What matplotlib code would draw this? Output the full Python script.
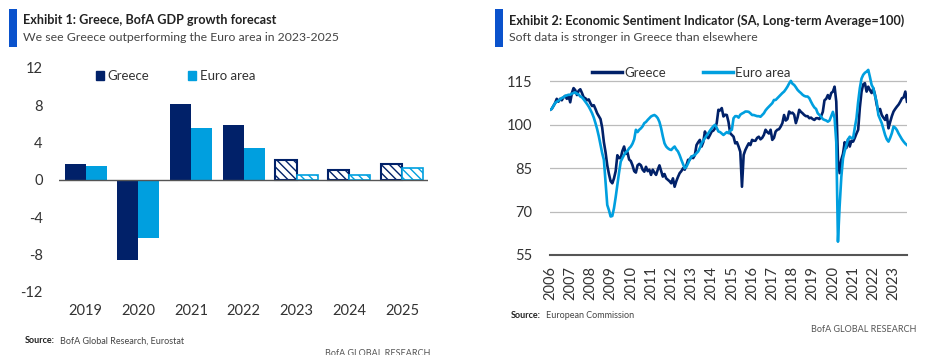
import numpy as np
import matplotlib
matplotlib.use("Agg")
import matplotlib.pyplot as plt
from matplotlib import font_manager as fm
from matplotlib.patches import Patch, Rectangle
from matplotlib.lines import Line2D

_names = {f.name for f in fm.fontManager.ttflist}
if 'Liberation Sans Narrow' in _names:
    FONT = ['Liberation Sans Narrow', 'DejaVu Sans']
    SZ = dict(title=10, sub=10, tick=11, leg=10.5, src=7.5)
else:
    FONT = ['Lato', 'DejaVu Sans']
    SZ = dict(title=9.1, sub=8.8, tick=10.5, leg=9.5, src=6.5)
plt.rcParams['font.family'] = FONT
plt.rcParams['hatch.linewidth'] = 1.0

# ---------------- data: Exhibit 1 ----------------
years_gdp = ['2019', '2020', '2021', '2022', '2023', '2024', '2025']
greece_gdp = [1.7, -8.6, 8.1, 5.9, 2.1, 1.0, 1.7]
euro_gdp = [1.5, -6.3, 5.5, 3.4, 0.5, 0.5, 1.3]
forecast_from = 4  # index of first forecast year (2023)
gdp_yticks = [12, 8, 4, 0, -4, -8, -12]

# ---------------- data: Exhibit 2 (monthly, Jan 2006 - Sep 2023) ----------------
esi_start_year = 2006
greece_esi = [
    105.2, 105.5, 106.5, 107.5, 109.0, 108.0, 109.0, 108.5, 109.5, 110.0, 109.0, 110.0,  # 2006
    107.8, 111.0, 112.7, 112.0, 110.3, 111.8, 112.3, 111.0, 109.5, 109.2, 108.5, 108.8,  # 2007
    107.5, 106.5, 106.8, 105.5, 104.0, 103.0, 102.0, 99.0, 94.0, 90.5, 86.0, 83.0,      # 2008
    80.5, 79.8, 81.5, 84.0, 89.5, 88.5, 88.5, 91.0, 92.5, 90.0, 90.5, 88.0,             # 2009
    87.5, 86.0, 84.0, 83.5, 86.0, 86.5, 86.0, 84.5, 83.8, 85.5, 84.0, 84.5,             # 2010
    82.7, 84.5, 83.5, 82.7, 84.5, 86.0, 84.0, 82.1, 83.0, 81.5, 81.0, 80.5,             # 2011
    79.8, 81.5, 78.6, 80.5, 82.0, 83.3, 84.0, 85.0, 84.5, 86.0, 87.9, 88.0,             # 2012
    89.0, 88.5, 89.5, 93.0, 94.0, 94.8, 92.5, 94.0, 97.7, 96.0, 95.4, 96.5,             # 2013
    97.7, 98.0, 98.8, 100.6, 105.2, 105.0, 105.8, 102.9, 103.5, 103.4, 101.0, 97.1,     # 2014
    96.5, 95.9, 93.6, 94.0, 92.5, 90.7, 78.6, 89.6, 91.3, 92.5, 93.6, 93.0,             # 2015
    94.8, 94.5, 94.5, 95.5, 95.9, 95.0, 95.5, 96.5, 98.3, 97.5, 97.0, 98.3,             # 2016
    94.8, 95.5, 97.7, 98.3, 98.5, 99.4, 100.6, 103.4, 101.5, 102.0, 104.6, 104.0,       # 2017
    104.2, 103.5, 100.6, 102.5, 105.2, 104.5, 104.0, 103.4, 103.0, 103.0, 102.3, 102.5, # 2018
    102.0, 101.7, 102.3, 102.3, 102.0, 103.0, 104.5, 108.5, 109.0, 110.3, 109.0, 111.0, # 2019
    111.5, 113.2, 108.0, 88.0, 83.3, 88.0, 90.0, 94.0, 92.0, 95.0, 92.5, 94.5,          # 2020
    94.2, 95.5, 97.0, 98.3, 106.0, 111.5, 114.0, 114.4, 111.5, 113.2, 112.0, 111.0,     # 2021
    112.6, 110.4, 107.0, 104.6, 105.5, 103.4, 102.5, 101.7, 103.4, 98.8, 101.0, 103.0,  # 2022
    104.6, 105.5, 106.3, 107.0, 108.0, 109.2, 109.5, 111.5, 108.0,                      # 2023
]
euro_esi = [
    105.2, 105.5, 106.5, 107.5, 108.0, 108.3, 108.8, 109.3, 109.5, 110.0, 110.2, 110.4,  # 2006
    110.4, 110.8, 111.0, 111.2, 110.8, 110.5, 109.8, 109.5, 108.8, 108.0, 107.2, 106.3,  # 2007
    105.2, 104.0, 102.5, 100.6, 98.5, 96.0, 93.0, 90.2, 87.9, 80.0, 72.3, 70.5,         # 2008
    68.3, 68.5, 71.2, 75.0, 79.2, 83.5, 87.3, 88.5, 89.6, 90.5, 91.0, 91.9,             # 2009
    92.5, 93.5, 95.0, 98.3, 97.5, 98.3, 98.8, 99.5, 100.6, 101.0, 101.7, 102.3,         # 2010
    102.9, 103.2, 103.4, 103.0, 102.3, 101.0, 98.8, 96.0, 93.6, 92.5, 91.9, 91.5,       # 2011
    91.3, 92.0, 92.5, 91.5, 90.8, 89.5, 87.9, 86.5, 85.0, 85.5, 86.7, 88.0,             # 2012
    89.0, 89.3, 89.6, 90.2, 90.8, 92.0, 93.6, 94.5, 95.4, 96.3, 97.1, 98.0,             # 2013
    98.8, 99.5, 100.0, 99.0, 97.7, 97.5, 97.0, 96.5, 97.0, 97.5, 97.1, 98.0,            # 2014
    98.3, 102.3, 103.0, 103.0, 102.5, 103.5, 103.9, 104.2, 104.6, 104.6, 104.5, 104.0,  # 2015
    103.4, 103.4, 103.2, 103.0, 103.0, 102.8, 103.4, 104.0, 105.0, 105.7, 106.3, 106.9, # 2016
    107.5, 108.6, 108.6, 109.2, 109.8, 110.4, 111.0, 111.5, 112.3, 113.2, 114.3, 115.2, # 2017
    114.2, 113.8, 113.0, 112.1, 111.5, 111.0, 110.4, 110.0, 109.8, 109.8, 109.2, 108.0, # 2018
    106.9, 106.0, 105.5, 104.0, 103.4, 102.8, 102.0, 101.7, 101.5, 101.1, 101.5, 103.0, # 2019
    104.5, 102.3, 94.0, 59.6, 72.0, 82.0, 88.4, 91.0, 93.0, 95.0, 95.9, 95.4,           # 2020
    95.4, 99.0, 102.3, 108.0, 112.7, 116.0, 117.3, 118.0, 118.4, 119.0, 116.5, 113.8,   # 2021
    112.7, 110.0, 108.0, 103.4, 102.0, 100.6, 98.5, 96.5, 95.0, 94.2, 95.5, 97.1,       # 2022
    99.4, 99.0, 98.2, 97.0, 96.0, 95.0, 94.2, 93.5, 93.0,                               # 2023
]
esi_year_labels = [str(y) for y in range(2006, 2024)]
esi_yticks = [55, 70, 85, 100, 115]

# ---------------- style ----------------
NAVY = '#012169'
LBLUE = '#009FDF'
ACCENT = '#0A52CC'
TXT = '#333333'

W, H = 926, 355
fig = plt.figure(figsize=(W / 100, H / 100), dpi=100)


def fx(px):
    return px / W


def fy(py):
    return 1 - py / H


# ---------------- headers ----------------
for x0, title, sub in [
    (9, 'Exhibit 1: Greece, BofA GDP growth forecast',
     'We see Greece outperforming the Euro area in 2023-2025'),
    (495, 'Exhibit 2: Economic Sentiment Indicator (SA, Long-term Average=100)',
     'Soft data is stronger in Greece than elsewhere'),
]:
    fig.patches.append(Rectangle((fx(x0), fy(46.7)), fx(7.5), (46.7 - 9.3) / H,
                                 transform=fig.transFigure, color=ACCENT, lw=0))
    fig.text(fx(x0 + 14), fy(20.5), title, fontsize=SZ['title'], fontweight='bold',
             color='#222222', va='center', ha='left')
    fig.text(fx(x0 + 14), fy(37.5), sub, fontsize=SZ['sub'], color='#444444',
             va='center', ha='left')

# ---------------- Exhibit 1: bars ----------------
ax1 = fig.add_axes([fx(59.3), fy(291.7), fx(428.3 - 59.3), (291.7 - 67.7) / H])
x = np.arange(len(years_gdp))
bw = 0.4
for i in range(len(years_gdp)):
    if i < forecast_from:
        ax1.bar(x[i] - bw / 2, greece_gdp[i], bw, color=NAVY, lw=0)
        ax1.bar(x[i] + bw / 2, euro_gdp[i], bw, color=LBLUE, lw=0)
    else:
        ax1.bar(x[i] - bw / 2, greece_gdp[i], bw, facecolor='white',
                edgecolor=NAVY, hatch='\\\\\\\\', lw=1.5)
        ax1.bar(x[i] + bw / 2, euro_gdp[i], bw, facecolor='white',
                edgecolor=LBLUE, hatch='\\\\\\\\', lw=1.2)
ax1.axhline(0, color='#555555', lw=1.0)
ax1.set_xlim(-0.5, len(years_gdp) - 0.5)
ax1.set_ylim(-12, 12)
ax1.set_yticks(gdp_yticks)
ax1.set_yticklabels([str(v) for v in gdp_yticks])
ax1.set_xticks(x)
ax1.set_xticklabels(years_gdp)
ax1.tick_params(axis='y', length=0, pad=12, labelsize=SZ['tick'], labelcolor=TXT)
ax1.tick_params(axis='x', length=0, pad=9, labelsize=SZ['tick'], labelcolor=TXT)
for s in ax1.spines.values():
    s.set_visible(False)
leg1 = ax1.legend(handles=[Patch(color=NAVY, label='Greece'),
                           Patch(color=LBLUE, label='Euro area')],
                  loc='center', bbox_to_anchor=(0.315, 0.963), ncol=2, frameon=False,
                  handlelength=0.6, handleheight=0.6, handletextpad=0.25,
                  columnspacing=3.0, fontsize=SZ['leg'])
for t in leg1.get_texts():
    t.set_color(TXT)

# ---------------- Exhibit 2: lines ----------------
ax2 = fig.add_axes([fx(550), fy(255), fx(907 - 550), (255 - 67) / H])
t = esi_start_year + np.arange(len(greece_esi)) / 12.0
ax2.plot(t, greece_esi, color=NAVY, lw=1.9, label='Greece', solid_joinstyle='round')
ax2.plot(t, euro_esi, color=LBLUE, lw=1.9, label='Euro area', solid_joinstyle='round')
ax2.set_xlim(t[0], t[-1])
ax2.set_ylim(55, 120)
ax2.set_yticks(esi_yticks)
ax2.set_yticklabels([str(v) for v in esi_yticks])
ax2.set_xticks(np.arange(2006, 2024))
ax2.set_xticklabels(esi_year_labels, rotation=90)
for v in esi_yticks[1:]:
    ax2.axhline(v, color='#BBBBBB', lw=0.9, zorder=0)
for s in ['top', 'right', 'left']:
    ax2.spines[s].set_visible(False)
ax2.spines['bottom'].set_color('#555555')
ax2.spines['bottom'].set_linewidth(1.5)
ax2.tick_params(axis='y', length=0, pad=13, labelsize=SZ['tick'], labelcolor=TXT)
ax2.tick_params(axis='x', length=0, pad=8, labelsize=SZ['tick'], labelcolor=TXT)
leg2 = ax2.legend(handles=[Line2D([], [], color=NAVY, lw=2.5, label='Greece'),
                           Line2D([], [], color=LBLUE, lw=2.5, label='Euro area')],
                  loc='center', bbox_to_anchor=(0.395, 0.968), ncol=2, frameon=False,
                  handlelength=2.3, handletextpad=0.15, columnspacing=2.8,
                  fontsize=SZ['leg'])
for tx in leg2.get_texts():
    tx.set_color(TXT)

# ---------------- footers ----------------
def source(xpx, ypx, text):
    fig.text(fx(xpx), fy(ypx), 'Source:', fontsize=SZ['src'], fontweight='bold',
             color='#222222', va='center', ha='left')
    fig.text(fx(xpx + 35), fy(ypx), text, fontsize=SZ['src'], color='#444444',
             va='center', ha='left')


source(25, 340.7, 'BofA Global Research, Eurostat')
source(511, 315.7, 'European Commission')
fig.text(fx(916), fy(330), 'BofA GLOBAL RESEARCH', fontsize=SZ['src'], color='#555555',
         va='center', ha='right')
fig.text(fx(430), fy(349), 'BofA GLOBAL RESEARCH', fontsize=SZ['src'], color='#555555',
         va='top', ha='right')

fig.savefig('out.png', dpi=100)
